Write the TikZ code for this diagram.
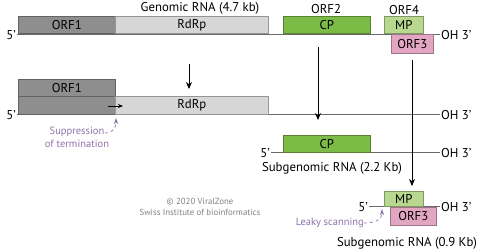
\documentclass[tikz,border=0pt]{standalone}
\usepackage{fontspec}
\setmainfont{PT Sans}
\usetikzlibrary{arrows.meta}

\definecolor{orfdark}{HTML}{8E8E8E}
\definecolor{orflight}{HTML}{D6D6D6}
\definecolor{cpgreen}{HTML}{7DBB47}
\definecolor{mpgreen}{HTML}{B8D88F}
\definecolor{orfpink}{HTML}{E2A6C3}
\definecolor{leaky}{HTML}{8C72AA}
\definecolor{rnaline}{HTML}{6A6A6A}

\tikzset{
  rna/.style={draw=rnaline, line width=1pt},
  orfbox/.style={draw=#1!70!black, line width=0.6pt, inner sep=0pt, anchor=south west, font=\fontsize{12.8}{14}\selectfont},
  lbl/.style={font=\fontsize{12.8}{14}\selectfont, inner sep=1pt},
  endlbl/.style={font=\fontsize{12.8}{14}\selectfont, inner sep=1pt},
  transl/.style={draw=black, line width=0.9pt, -{Stealth[length=7pt,width=6pt]}},
  purplearrow/.style={draw=leaky, dashed, line width=0.7pt, -{Stealth[length=6pt,width=4pt]}},
  purpletext/.style={text=leaky, font=\fontsize{10.5}{11}\selectfont, inner sep=0pt}
}

\begin{document}
\begin{tikzpicture}[x=1pt, y=-1pt]
  \useasboundingbox (0,0) rectangle (483,251);

  % Genomic RNA
  \node[endlbl, anchor=east] (g5) at (17,35) {5’};
  \node[endlbl, anchor=west] (g3) at (440,35) {OH 3’};
  \draw[rna] (g5.east) -- (g3.west);
  \node[orfbox=orfdark, fill=orfdark, minimum width=97, minimum height=17] (orf1) at (18,34) {ORF1};
  \node[orfbox=orflight, fill=orflight, minimum width=153, minimum height=17] (rdrp) at (115,34) {RdRp};
  \node[orfbox=cpgreen, fill=cpgreen, minimum width=87, minimum height=17] (cp) at (283,34) {CP};
  \node[orfbox=mpgreen, fill=mpgreen, minimum width=39, minimum height=17] (mp) at (384,34) {MP};
  \node[orfbox=orfpink, fill=orfpink, minimum width=42, minimum height=19, anchor=north west] (orf3) at (391,34) {ORF3};
  \node[lbl] (gtitle) at (200,8) {Genomic RNA (4.7 kb)};
  \node[lbl] (orf2lbl) at (326,9) {ORF2};
  \node[lbl] (orf4lbl) at (404,10) {ORF4};

  % readthrough product
  \node[endlbl, anchor=east] (r5) at (17,115) {5’};
  \node[endlbl, anchor=west] (r3) at (440,115) {OH 3’};
  \draw[rna] (r5.east) -- (r3.west);
  \node[orfbox=orfdark, fill=orfdark, minimum width=97, minimum height=17] (rorf1) at (18,97) {ORF1};
  \node[orfbox=orfdark, fill=orfdark, minimum width=97, minimum height=18] (rtdark) at (18,115) {};
  \node[orfbox=orflight, fill=orflight, minimum width=153, minimum height=18] (rrdrp) at (115,115) {RdRp};
  \coordinate (rtA) at (108,106);
  \coordinate (rtB) at (123,106);
  \draw[black, line width=0.8pt, -{Stealth[length=5pt,width=4pt]}] (rtA) -- (rtB);
  \coordinate (down1) at (189,64);
  \coordinate (down2) at (189,89);
  \draw[transl] (down1) -- (down2);

  % suppression of termination
  \node[purpletext, align=center] (supp) at (77,137) {Suppression\\[2pt]of termination};
  \draw[purplearrow] (105,133) .. controls (113,133) and (116,128) .. (116,118);

  % Subgenomic RNA (2.2 Kb)
  \node[endlbl, anchor=east] (s5) at (271,153) {5’};
  \node[endlbl, anchor=west] (s3) at (440,153) {OH 3’};
  \draw[rna] (s5.east) -- (s3.west);
  \node[orfbox=cpgreen, fill=cpgreen, minimum width=87, minimum height=17] (scp) at (283,153) {CP};
  \node[lbl] (stitle) at (332,168) {Subgenomic RNA (2.2 Kb)};

  % Subgenomic RNA (0.9 Kb)
  \node[endlbl, anchor=east] (t5) at (369,207) {5’};
  \node[endlbl, anchor=west] (t3) at (440,207) {OH 3’};
  \draw[rna] (t5.east) -- (t3.west);
  \node[orfbox=mpgreen, fill=mpgreen, minimum width=39, minimum height=15] (tmp) at (384,207) {MP};
  \node[orfbox=orfpink, fill=orfpink, minimum width=46, minimum height=18, anchor=north west] (torf3) at (390,207) {ORF3};
  \node[lbl] (ttitle) at (407,243) {Subgenomic RNA (0.9 Kb)};
  \node[purpletext, anchor=east] (leak) at (364,223) {Leaky scanning};
  \draw[purplearrow] (leak.east) .. controls (378,223) and (382,218) .. (382,209);

  % subgenomic promoters
  \coordinate (sgA) at (318,47);
  \coordinate (sgB) at (318,120);
  \draw[transl] (sgA) -- (sgB);
  \coordinate (sgC) at (412,60);
  \coordinate (sgD) at (412,186);
  \draw[transl] (sgC) -- (sgD);

  % credit
  \node[text=black!50, font=\fontsize{8.8}{10.5}\selectfont, align=center] (credit) at (200,207) {© 2020 ViralZone\\Swiss Institute of bioinformatics};
\end{tikzpicture}
\end{document}
